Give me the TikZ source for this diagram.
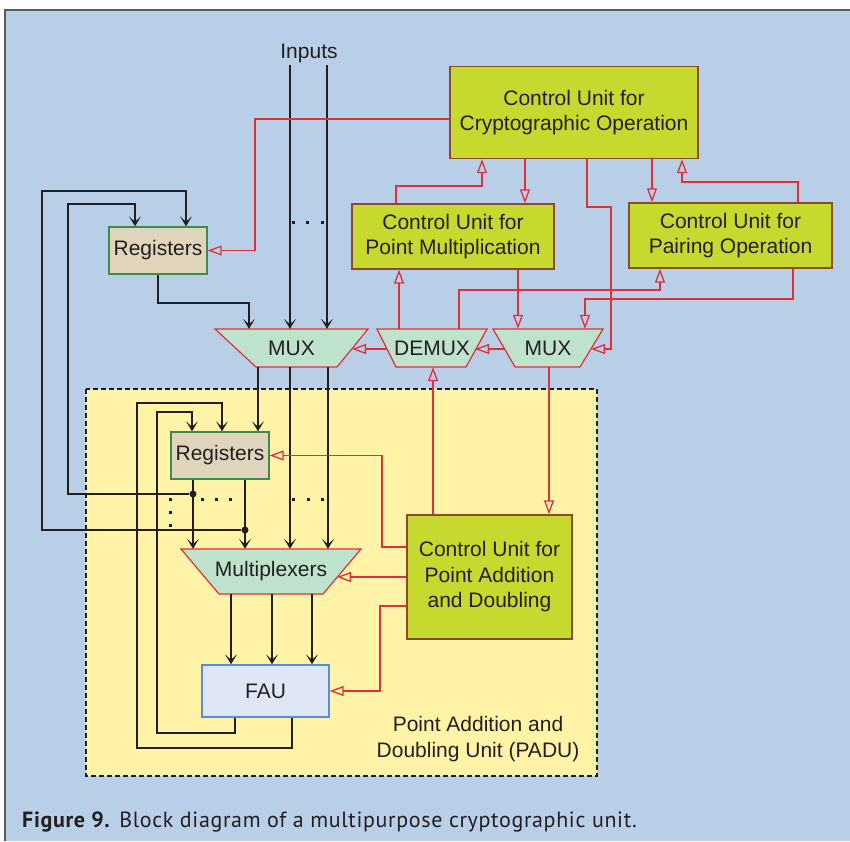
\documentclass[tikz,border=0pt]{standalone}
\usepackage{fontspec}
\setmainfont{Liberation Sans}
\newfontfamily\capfont[LetterSpace=3]{PT Sans}
\usetikzlibrary{arrows.meta}
\definecolor{bgblue}{HTML}{B9CFE8}
\definecolor{framegray}{HTML}{58595B}
\definecolor{padufill}{HTML}{FFF3A8}
\definecolor{cufill}{HTML}{C6D92E}
\definecolor{cuborder}{HTML}{8B4A2B}
\definecolor{regfill}{HTML}{E1D4BD}
\definecolor{regborder}{HTML}{3E8B4B}
\definecolor{muxfill}{HTML}{BFE2CC}
\definecolor{faufill}{HTML}{DFE6F6}
\definecolor{fauborder}{HTML}{5B8DD6}
\definecolor{redline}{HTML}{E0303A}
\definecolor{linedark}{HTML}{231F20}
\definecolor{arrgreen}{HTML}{2F7A34}

\begin{document}
\begin{tikzpicture}[x=1pt,y=-1pt,
    every node/.style={font=\fontsize{21}{25.5}\selectfont,text=linedark},
    cunode/.style={draw=cuborder,fill=cufill,line width=1.4pt,align=center,inner sep=0pt},
    regnode/.style={draw=regborder,fill=regfill,line width=1.4pt,minimum width=98pt,minimum height=47pt,inner sep=0pt},
    faunode/.style={draw=fauborder,fill=faufill,line width=1.4pt,minimum width=127pt,minimum height=52pt,inner sep=0pt},
    trapnode/.style={minimum height=38pt,inner sep=0pt},
    trapshape/.style={draw=redline,fill=muxfill,line width=1.2pt},
    jnode/.style={circle,fill=linedark,inner sep=0pt,minimum size=7pt},
    barrow/.style={draw=linedark,line width=1.5pt,-{Stealth[length=10pt,width=12pt,inset=5.5pt]}},
    garrow/.style={draw=linedark,line width=1.5pt,-{Stealth[length=10pt,width=12pt,inset=5.5pt,fill=arrgreen]}},
    rarrow/.style={draw=redline,line width=1.3pt,-{Triangle[open,length=14pt,width=10pt]}}]

  \useasboundingbox (0,0) rectangle (850,841);

  %%%% Background, frame and the PADU region %%%%
  \fill[white] (0,0) rectangle (850,841);
  \fill[bgblue] (5,10) rectangle (850,841);
  \draw[framegray,line width=2pt] (5,841) -- (5,10) -- (850,10);
  \draw[linedark,fill=padufill,line width=1.2pt,dash pattern=on 5pt off 3pt] (86,389) rectangle (597,776);

  %% Trapezoids (MUX, DEMUX, MUX, Multiplexers)
  \filldraw[trapshape] (215,329) -- (368,329) -- (337,367) -- (256,367) -- cycle;
  \filldraw[trapshape] (377,329) -- (487,329) -- (466,367) -- (396,367) -- cycle;
  \filldraw[trapshape] (493,329) -- (603,329) -- (580,367) -- (515,367) -- cycle;
  \filldraw[trapshape] (181,549) -- (361,549) -- (323,594) -- (219,594) -- cycle;

  %%%% Blocks %%%%
  \node[cunode,minimum width=248pt,minimum height=92pt] (cuco) at (574,112.5) {Control Unit for\\Cryptographic Operation};
  \node[cunode,minimum width=202pt,minimum height=65pt] (cpm) at (453,236.5) {Control Unit for\\Point Multiplication};
  \node[cunode,minimum width=203pt,minimum height=65pt] (cpa) at (730.5,235.5) {Control Unit for\\Pairing Operation};
  \node[cunode,minimum width=165pt,minimum height=124pt] (cpad) at (489.5,577) {Control Unit for\\Point Addition\\and Doubling};
  \node[regnode] (reg1) at (158,250.5) {Registers};
  \node[regnode] (reg2) at (220,455.5) {Registers};
  \node[faunode] (fau) at (265.5,691) {FAU};
  \node[trapnode,minimum width=153pt] (mux1) at (291.5,348) {MUX};
  \node[trapnode,minimum width=110pt] (demux) at (432,348) {DEMUX};
  \node[trapnode,minimum width=110pt] (mux2) at (548,348) {MUX};
  \node[trapnode,minimum width=180pt,minimum height=45pt] (mpx) at (271,571.5) {Multiplexers};
  \node[inner sep=2pt] (inp) at (309,53.5) {Inputs};
  \node[align=center] (padu) at (478,739) {Point Addition and\\Doubling Unit (PADU)};
  \node[jnode] (ja) at (193,494) {};
  \node[jnode] (jb) at (245,530) {};

  %% Points on the slanted sides
  \coordinate (mux1r) at (352,349);
  \coordinate (demuxl) at (387,349);
  \coordinate (demuxr) at (475,349);
  \coordinate (mux2l) at (505,349);
  \coordinate (mux2r) at (591,349);
  \coordinate (mpxr) at (337,577);

  %%%% Data paths %%%%
  \foreach \px in {290,327}{
    \draw[garrow] (inp.south -| \px,0) -- (mux1.north -| \px,0);
  }
  \foreach \px in {293,307,322}{
    \fill[linedark] (\px-1.5,220.5) rectangle ++(3.5,3.5);
  }
  \draw[barrow] (reg1.south) |- (249,303) -- (mux1.north -| 249,0);
  \draw[barrow] (jb) -- (42,530) |- (186,191) -- (reg1.north -| 186,0);
  \draw[barrow] (ja) -- (68,494) |- (135,204) -- (reg1.north -| 135,0);
  \draw[barrow] (mux1.south -| 258,0) -- (reg2.north -| 258,0);
  \foreach \px in {290,328}{
    \draw[barrow] (mux1.south -| \px,0) -- (mpx.north -| \px,0);
  }
  \draw[barrow] (reg2.south -| ja) -- (mpx.north -| ja);
  \draw[barrow] (reg2.south -| jb) -- (mpx.north -| jb);
  \foreach \px in {231,272,312}{
    \draw[barrow] (mpx.south -| \px,0) -- (fau.north -| \px,0);
  }
  \draw[barrow] (fau.south -| 235,0) |- (157,733) |- (192,412) -- (reg2.north -| 192,0);
  \draw[barrow] (fau.south -| 292,0) |- (137,748) |- (222,403) -- (reg2.north -| 222,0);
  %% dotted continuation
  \foreach \px/\py in {170/499,202/499,216/499,230/499,293/499,308/499,322/499,170/512,170/525}{
    \fill[linedark] (\px-1.5,\py-1.5) rectangle ++(3.5,3.5);
  }

  %%%% Control paths %%%%
  \draw[rarrow] (cuco.west |- 0,119) -| (255,250.5) -- (reg1.east);
  \draw[rarrow] (cpm.north -| 396,0) |- (482,186) -- (cuco.south -| 482,0);
  \draw[rarrow] (cuco.south -| 525,0) -- (cpm.north -| 525,0);
  \draw[rarrow] (cuco.south -| 587,0) |- (611,207) |- (mux2r);
  \draw[rarrow] (cuco.south -| 652,0) -- (cpa.north -| 652,0);
  \draw[rarrow] (cpa.north -| 798,0) |- (682,182) -- (cuco.south -| 682,0);
  \draw[rarrow] (demux.north -| 459,0) |- (660,290) -- (cpa.south -| 660,0);
  \draw[rarrow] (cpa.south -| 793,0) |- (585,299) -- (mux2.north -| 585,0);
  \draw[rarrow] (cpm.south -| 518,0) -- (mux2.north -| 518,0);
  \draw[rarrow] (demux.north -| 399,0) -- (cpm.south -| 399,0);
  \draw[rarrow] (mux2l) -- (demuxr);
  \draw[rarrow] (demuxl) -- (mux1r);
  \draw[rarrow] (cpad.north -| 433,0) -- (demux.south -| 433,0);
  \draw[rarrow] (mux2.south -| 549,0) -- (cpad.north -| 549,0);
  \draw[rarrow] (cpad.west |- 0,547) -| (382,455.5) -- (reg2.east);
  \draw[rarrow] (cpad.west) -- (mpxr);
  \draw[rarrow] (cpad.west |- 0,606) -| (380,691) -- (fau.east);

  %% Caption
  \node[anchor=base west,inner sep=0pt,font=\capfont\fontsize{22}{26}\selectfont] (cap) at (22,827)
    {\textbf{Figure 9.} Block diagram of a multipurpose cryptographic unit.};

\end{tikzpicture}
\end{document}
